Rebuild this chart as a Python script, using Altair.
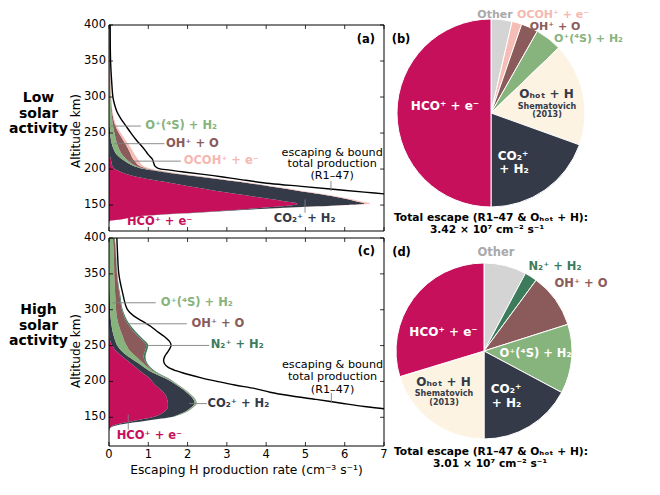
import altair as alt
import pandas as pd

FONT = "DejaVu Sans"
GRAY = "#7f7f7f"
INK = "#1a1a1a"

# ---------------- reactions & colours ----------------
RXN_KEYS = ["HCO", "CO2", "Op", "OH", "OCOH", "N2", "Ohot", "Other"]
RXN_COLORS = ["#c6105c", "#343a48", "#87b37d", "#8b5a5a", "#f5bdb5", "#3d7b5d", "#fcf3e3", "#d4d4d4"]

HCO_T = "HCO⁺ + e⁻"
CO2_T = "CO₂⁺ + H₂"
OP_T = "O⁺(⁴S) + H₂"
OH_T = "OH⁺ + O"
OCOH_T = "OCOH⁺ + e⁻"
N2_T = "N₂⁺ + H₂"
OHOT_T = "Oₕₒₜ + H"

# ---------------- axis ticks ----------------
XT = [0, 1, 2, 3, 4, 5, 6, 7]
XT_LABELS = ["0", "1", "2", "3", "4", "5", "6", "7"]
YT = [150, 200, 250, 300, 350, 400]
YT_LABELS = ["150", "200", "250", "300", "350", "400"]

# ---------------- panel (a): low solar activity ----------------
ALT_A = [125, 128, 130, 135, 140, 145, 150, 152, 155, 160, 165, 170, 175, 180, 185,
         190, 195, 200, 205, 210, 215, 220, 230, 240, 250, 260, 270, 280, 300, 350, 400]
HCO_A = [0, 0.02, 0.3, 0.85, 2.3, 3.6, 4.7, 4.8, 4.5, 3.9, 3.3, 2.7, 2.15, 1.65, 1.1,
         0.65, 0.35, 0.15, 0.08, 0.06, 0.04, 0.02, 0.01, 0.01, 0, 0, 0, 0, 0, 0, 0]
CO2_A = [0, 0, 0, 0.05, 0.15, 0.4, 1.3, 1.7, 1.8, 2.0, 2.1, 2.1, 2.05, 1.95, 1.8,
         1.55, 1.15, 0.75, 0.52, 0.37, 0.26, 0.18, 0.09, 0.04, 0.03, 0.02, 0.01, 0.01, 0, 0, 0]
OP_A = [0, 0, 0, 0, 0, 0, 0, 0, 0, 0, 0, 0, 0, 0, 0,
        0.02, 0.03, 0.05, 0.06, 0.09, 0.12, 0.14, 0.14, 0.13, 0.11, 0.08, 0.07, 0.05, 0.04, 0.025, 0.02]
OH_A = [0, 0, 0, 0, 0, 0, 0, 0, 0, 0, 0, 0, 0, 0.02, 0.02,
        0.03, 0.05, 0.07, 0.1, 0.15, 0.18, 0.22, 0.23, 0.18, 0.11, 0.06, 0.03, 0.02, 0.01, 0.005, 0]
OCOH_A = [0, 0, 0, 0, 0.02, 0.05, 0.12, 0.15, 0.12, 0.1, 0.1, 0.1, 0.1, 0.08, 0.08,
          0.07, 0.07, 0.08, 0.1, 0.11, 0.12, 0.1, 0.08, 0.06, 0.05, 0.03, 0.02, 0.01, 0.01, 0, 0.005]
# escaping & bound total production (R1-47)
LINE_ALT_A = [160, 165, 168, 172, 176, 180, 185, 189, 193, 196, 198.5, 201, 204, 208,
              214, 220, 226, 232, 240, 250, 260, 270, 280, 290, 300, 320, 350, 400]
LINE_TOT_A = [8.2, 7.1, 6.5, 5.7, 4.9, 4.1, 3.4, 2.9, 2.35, 1.9, 1.55, 1.25, 1.17, 1.14,
              1.1, 1.0, 0.92, 0.83, 0.7, 0.56, 0.43, 0.3, 0.2, 0.14, 0.1, 0.07, 0.04, 0.03]

# ---------------- panel (c): high solar activity ----------------
ALT_C = [130, 135, 140, 145, 150, 155, 160, 165, 170, 175, 180, 185, 190, 195, 200, 205, 210,
         215, 220, 225, 230, 235, 240, 245, 250, 255, 260, 270, 280, 290, 300, 320, 340, 360, 380, 400]
HCO_C = [0, 0.02, 0.17, 0.62, 1.1, 1.33, 1.45, 1.5, 1.5, 1.48, 1.45, 1.38, 1.28, 1.18, 1.1, 1.02, 0.9,
         0.78, 0.67, 0.56, 0.45, 0.33, 0.23, 0.14, 0.08, 0.04, 0.02, 0.01, 0, 0, 0, 0, 0, 0, 0, 0]
CO2_C = [0, 0.01, 0.11, 0.28, 0.45, 0.49, 0.55, 0.62, 0.68, 0.67, 0.62, 0.59, 0.57, 0.54, 0.48, 0.38, 0.3,
         0.24, 0.21, 0.2, 0.17, 0.15, 0.14, 0.14, 0.13, 0.13, 0.12, 0.08, 0.06, 0.04, 0.03, 0.02, 0.01, 0, 0, 0]
OP_C = [0, 0, 0, 0, 0.01, 0.03, 0.03, 0.03, 0.03, 0.03, 0.03, 0.03, 0.03, 0.03, 0.03, 0.04, 0.06,
        0.08, 0.1, 0.12, 0.16, 0.2, 0.21, 0.22, 0.24, 0.23, 0.23, 0.21, 0.18, 0.16, 0.15, 0.14, 0.13, 0.13, 0.12, 0.1]
OH_C = [0, 0, 0, 0, 0, 0.01, 0.01, 0.01, 0.01, 0.01, 0.01, 0.01, 0.01, 0.01, 0.01, 0.02, 0.02,
        0.03, 0.04, 0.07, 0.12, 0.2, 0.32, 0.43, 0.5, 0.5, 0.43, 0.32, 0.24, 0.19, 0.15, 0.11, 0.08, 0.06, 0.05, 0.04]
N2_C = [0, 0, 0, 0.01, 0.01, 0.01, 0.01, 0.01, 0.01, 0.01, 0.01, 0.01, 0.01, 0.01, 0.02, 0.03, 0.03,
        0.03, 0.03, 0.03, 0.04, 0.05, 0.05, 0.05, 0.05, 0.05, 0.05, 0.05, 0.04, 0.03, 0.02, 0.02, 0.01, 0.01, 0.01, 0.01]
LINE_ALT_C = [155, 162, 165, 170, 175, 180, 185, 190, 195, 200, 205, 210, 215, 220, 225, 230,
              235, 240, 245, 250, 255, 263, 270, 277, 284, 291, 300, 325, 350, 375, 400]
LINE_TOT_C = [8.0, 7.0, 6.5, 5.88, 5.27, 4.62, 4.1, 3.72, 3.2, 2.76, 2.35, 2.0, 1.7, 1.5, 1.41, 1.39,
              1.42, 1.48, 1.54, 1.58, 1.55, 1.4, 1.22, 1.06, 0.85, 0.64, 0.47, 0.34, 0.25, 0.22, 0.2]

# ---------------- pies: share of total escape (%) ----------------
PIE_B_KEYS = ["Other", "OCOH", "OH", "Op", "Ohot", "CO2", "HCO"]
PIE_B_PCT = [3.6, 1.7, 2.9, 4.6, 17.7, 19.5, 50.0]
PIE_D_KEYS = ["Other", "N2", "OH", "Op", "CO2", "Ohot", "HCO"]
PIE_D_PCT = [7.8, 2.3, 10.0, 12.7, 17.2, 20.3, 29.7]

CS = alt.Scale(domain=RXN_KEYS, range=RXN_COLORS)
ONE = pd.DataFrame({"d": [0]})


def stack_df(alts, series):
    rows = []
    for o, (k, vals) in enumerate(series):
        for a, v in zip(alts, vals):
            rows.append({"alt": a, "val": v, "rxn": k, "ord": o})
    return pd.DataFrame(rows)


def ptxt(s, x, y, color=INK, size=11.5, weight="bold", align="center", angle=0):
    return alt.Chart(ONE).mark_text(text=s, color=color, fontSize=size, fontWeight=weight,
                                    align=align, baseline="middle", font=FONT, angle=angle).encode(
        x=alt.value(x), y=alt.value(y))


def profile(alts, series, lalt, ltot, ydom, W, H, notes, leaders, vleaders, side, title_y, xlabels):
    XS = alt.Scale(domain=[0, 7], nice=False, zero=False)
    YS = alt.Scale(domain=ydom, nice=False, zero=False)
    layers = []
    df = stack_df(alts, series)
    layers.append(alt.Chart(df).mark_area(orient="horizontal", interpolate="monotone").encode(
        x=alt.X("val:Q", stack="zero", scale=XS, axis=None),
        y=alt.Y("alt:Q", scale=YS, axis=None),
        color=alt.Color("rxn:N", scale=CS, legend=None),
        order=alt.Order("ord:Q")))
    ldf = pd.DataFrame({"alt": lalt, "tot": ltot})
    layers.append(alt.Chart(ldf).mark_line(color="black", strokeWidth=1.4, clip=True,
                                           interpolate="catmull-rom").encode(
        x=alt.X("tot:Q", scale=XS, axis=None),
        y=alt.Y("alt:Q", scale=YS, axis=None),
        order=alt.Order("alt:Q")))
    xt = pd.DataFrame({"v": XT, "lab": XT_LABELS})
    yt = pd.DataFrame({"a": YT, "lab": YT_LABELS})
    for (y1, y2) in [(0, 4), (H - 4, H)]:
        layers.append(alt.Chart(xt).mark_rule(color="black", strokeWidth=0.8).encode(
            x=alt.X("v:Q", scale=XS, axis=None), y=alt.value(y1), y2=alt.value(y2)))
    for (x1, x2) in [(0, 4), (W - 4, W)]:
        layers.append(alt.Chart(yt).mark_rule(color="black", strokeWidth=0.8).encode(
            y=alt.Y("a:Q", scale=YS, axis=None), x=alt.value(x1), x2=alt.value(x2)))
    # frame
    for enc in [dict(x=alt.value(0), y=alt.value(0), y2=alt.value(H)),
                dict(x=alt.value(W), y=alt.value(0), y2=alt.value(H)),
                dict(y=alt.value(0), x=alt.value(0), x2=alt.value(W)),
                dict(y=alt.value(H), x=alt.value(0), x2=alt.value(W))]:
        layers.append(alt.Chart(ONE).mark_rule(color="black", strokeWidth=1).encode(**enc))
    layers.append(alt.Chart(yt).mark_text(align="right", baseline="middle", fontSize=11.5, font=FONT,
                                          color="black").encode(
        y=alt.Y("a:Q", scale=YS, axis=None), x=alt.value(-3), text="lab:N"))
    if xlabels:
        layers.append(alt.Chart(xt).mark_text(align="center", baseline="top", fontSize=11.5, font=FONT,
                                              color="black").encode(
            x=alt.X("v:Q", scale=XS, axis=None), y=alt.value(H + 3), text="lab:N"))
        layers.append(ptxt("Escaping H production rate (cm⁻³ s⁻¹)", W / 2, H + 24, color="black",
                           size=12.3, weight="normal"))
    for (x1, x2, y) in leaders:
        layers.append(alt.Chart(ONE).mark_rule(color=GRAY, strokeWidth=0.9).encode(
            x=alt.XDatum(x1, scale=XS, axis=None), x2=alt.X2Datum(x2),
            y=alt.YDatum(y, scale=YS, axis=None)))
    for (x, y1, y2) in vleaders:
        layers.append(alt.Chart(ONE).mark_rule(color=GRAY, strokeWidth=0.9).encode(
            x=alt.XDatum(x, scale=XS, axis=None),
            y=alt.YDatum(y1, scale=YS, axis=None), y2=alt.Y2Datum(y2)))
    for (s, x, y, color, size, weight, align) in notes:
        layers.append(alt.Chart(ONE).mark_text(text=s, color=color, fontSize=size, fontWeight=weight,
                                               align=align, baseline="middle", font=FONT).encode(
            x=alt.XDatum(x, scale=XS, axis=None), y=alt.YDatum(y, scale=YS, axis=None)))
    for (s, y) in side:
        layers.append(ptxt(s, -70.5, y, color="black", size=14, weight="bold"))
    layers.append(ptxt("Altitude km)", -33, title_y, color="black", size=12, weight="normal", angle=270))
    return layers


notes_a = [
    (OP_T, 0.92, 259.7, "#87b37d", 11.5, "bold", "left"),
    (OH_T, 1.45, 235.2, "#8b5a5a", 11.5, "bold", "left"),
    (OCOH_T, 1.9, 211, "#f4b9b0", 11.5, "bold", "left"),
    ("escaping & bound", 5.68, 222.6, "black", 11.2, "normal", "center"),
    ("total production", 5.68, 206.5, "black", 11.2, "normal", "center"),
    ("(R1–47)", 5.68, 190.3, "black", 11.2, "normal", "center"),
    (CO2_T, 4.98, 130.6, "#343a48", 11.5, "bold", "center"),
    (HCO_T, 1.29, 126.4, "#c6105c", 11.5, "bold", "center"),
    ("(a)", 6.54, 379, "black", 11.5, "bold", "center"),
]
leaders_a = [(0, 0.81, 259.7), (0.135, 1.41, 235.2), (0.52, 1.83, 211)]
vleaders_a = [(5.65, 183.3, 169.4), (4.99, 157.9, 139.3)]

notes_c = [
    (OP_T, 1.32, 309.7, "#87b37d", 11.5, "bold", "left"),
    (OH_T, 2.1, 280.4, "#8b5a5a", 11.5, "bold", "left"),
    (N2_T, 2.59, 250.2, "#3d7b5d", 11.5, "bold", "left"),
    ("escaping & bound", 5.69, 223.6, "black", 11.2, "normal", "center"),
    ("total production", 5.69, 206.3, "black", 11.2, "normal", "center"),
    ("(R1–47)", 5.69, 188.7, "black", 11.2, "normal", "center"),
    (CO2_T, 2.51, 169.1, "#343a48", 11.5, "bold", "left"),
    (HCO_T, 1.03, 124.4, "#c6105c", 11.5, "bold", "center"),
    ("(c)", 6.55, 380.5, "black", 11.5, "bold", "center"),
]
leaders_c = [(0.09, 1.19, 309.7), (0.51, 1.98, 280.4), (0.98, 2.55, 250.2), (2.04, 2.49, 169.1)]
vleaders_c = [(5.66, 184, 170), (0.49, 153.8, 132.8)]

WA, HA = 275, 206
WC, HC = 275, 208

layers_a = profile(ALT_A, [("HCO", HCO_A), ("CO2", CO2_A), ("Op", OP_A), ("OH", OH_A), ("OCOH", OCOH_A)],
                   LINE_ALT_A, LINE_TOT_A, [114, 400], WA, HA, notes_a, leaders_a, vleaders_a,
                   [("Low", 73), ("solar", 88.5), ("activity", 104)], 106, False)
# invisible anchor fixing the top-left corner of the whole figure
layers_a.append(alt.Chart(ONE).mark_rule(strokeOpacity=0, opacity=0).encode(
    x=alt.value(-100), x2=alt.value(-99), y=alt.value(-16)))
layers_c = profile(ALT_C, [("HCO", HCO_C), ("CO2", CO2_C), ("Op", OP_C), ("OH", OH_C), ("N2", N2_C)],
                   LINE_ALT_C, LINE_TOT_C, [110, 400], WC, HC, notes_c, leaders_c, vleaders_c,
                   [("High", 72), ("solar", 88), ("activity", 103)], 113, True)


def pie(keys, pct, radius):
    df = pd.DataFrame({"rxn": keys, "pct": pct, "ord": list(range(len(keys)))})
    return alt.Chart(df).mark_arc(radius=radius, stroke="white", strokeWidth=1).encode(
        theta=alt.Theta("pct:Q", stack=True),
        color=alt.Color("rxn:N", scale=CS, legend=None),
        order=alt.Order("ord:Q"))


WHITE = "white"
DARK = "#343a48"
layers_b = [
    pie(PIE_B_KEYS, PIE_B_PCT, 94),
    ptxt("(b)", 8, 15, "black", 11.5),
    ptxt("Other", 102, -10, "#a9a9a9", 11),
    ptxt(OCOH_T, 160, -10, "#f4b9b0", 11),
    ptxt(OH_T, 162, 1.8, "#8b5a5a", 11),
    ptxt(OP_T, 195.5, 13.5, "#87b37d", 11),
    ptxt(OHOT_T, 153.5, 69, DARK, 12),
    ptxt("Shematovich", 154, 82, DARK, 8),
    ptxt("(2013)", 154, 90, DARK, 8),
    ptxt(HCO_T, 52, 81, WHITE, 12),
    ptxt("CO₂⁺", 120, 131, WHITE, 12),
    ptxt("+ H₂", 121, 144, WHITE, 12),
    ptxt("Total escape (R1–47 & Oₕₒₜ + H):", 98, 193, "black", 10.7),
    ptxt("3.42 × 10⁷ cm⁻² s⁻¹", 94, 205, "black", 10.7),
]
layers_d = [
    pie(PIE_D_KEYS, PIE_D_PCT, 88),
    ptxt("(d)", 8.5, 15, "black", 11.5),
    ptxt("Other", 103, 15, "#a9a9a9", 11.5),
    ptxt(N2_T, 162, 29, "#3d7b5d", 11.5),
    ptxt(OH_T, 188, 46, "#8b5a5a", 11.5),
    ptxt(HCO_T, 50.5, 94, WHITE, 12),
    ptxt(OP_T, 142.5, 116, WHITE, 11.5),
    ptxt(OHOT_T, 50.5, 144, DARK, 12),
    ptxt("Shematovich", 51, 156, DARK, 8),
    ptxt("(2013)", 51, 165, DARK, 8),
    ptxt("CO₂⁺", 113, 151, WHITE, 12),
    ptxt("+ H₂", 113.5, 165, WHITE, 12),
    ptxt("Total escape (R1–47 & Oₕₒₜ + H):", 98, 214, "black", 10.7),
    ptxt("3.01 × 10⁷ cm⁻² s⁻¹", 97, 226, "black", 10.7),
]

A = alt.layer(*layers_a).properties(width=WA, height=HA)
B = alt.layer(*layers_b).properties(width=196, height=176)
C = alt.layer(*layers_c).properties(width=WC, height=HC)
D = alt.layer(*layers_d).properties(width=182, height=226)

chart = alt.concat(A, B, C, D, columns=2, spacing={"row": 7, "column": 9},
                   bounds="flush", align="each").properties(
    padding=0, autosize=alt.AutoSizeParams(type="pad")
).configure(font=FONT).configure_view(stroke="transparent")

chart.save("out.html", embed_options={"renderer": "svg", "actions": False})
